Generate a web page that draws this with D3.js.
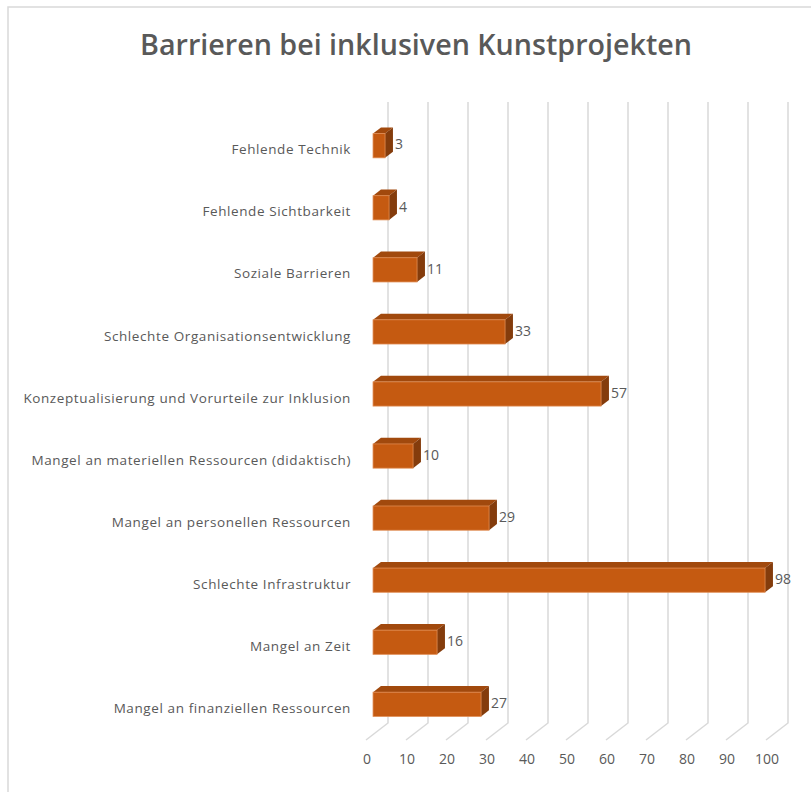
<!DOCTYPE html>
<html>
<head>
<meta charset="utf-8">
<script src="https://cdn.jsdelivr.net/npm/d3@7"></script>
<style>
  body { margin: 0; background: #fff; }
  svg { display: block; }
</style>
</head>
<body>
<div id="chart"></div>
<script>
// Barriers, top to bottom as shown in the chart
const categories = [
    'Fehlende Technik',
    'Fehlende Sichtbarkeit',
    'Soziale Barrieren',
    'Schlechte Organisationsentwicklung',
    'Konzeptualisierung und Vorurteile zur Inklusion ',
    'Mangel an materiellen Ressourcen (didaktisch)',
    'Mangel an personellen Ressourcen',
    'Schlechte Infrastruktur',
    'Mangel an Zeit',
    'Mangel an finanziellen Ressourcen'
];
const values = [3, 4, 11, 33, 57, 10, 29, 98, 16, 27];
const ticks = [0, 10, 20, 30, 40, 50, 60, 70, 80, 90, 100];
const title = 'Barrieren bei inklusiven Kunstprojekten';

const width = 811;
const height = 792;
const grey = '#595959';

// fake 3D: depth runs up and to the right
const depthX = 22, depthY = -17;
const zFront = 0.32, zBack = 0.68;

const svg = d3.select('#chart').append('svg')
    .attr('width', width)
    .attr('height', height);

// chart frame
svg.append('path')
    .attr('d', `M8,${height} V7 H${width}`)
    .attr('fill', 'none')
    .attr('stroke', '#d9d9d9')
    .attr('stroke-width', 1.5);

// title: tall narrow face, squeezed to the width it has in the original
svg.append('text')
    .attr('x', 140)
    .attr('y', 55)
    .attr('textLength', 552)
    .attr('lengthAdjust', 'spacingAndGlyphs')
    .attr('font-family', 'Open Sans, sans-serif')
    .attr('font-weight', 600)
    .attr('font-size', 29)
    .attr('fill', grey)
    .text(title);

const x = d3.scaleLinear().domain([0, 100]).range([366, 766]);
const y = d3.scaleBand()
    .domain(categories)
    .range([115, 735])
    .paddingInner(0.61)
    .paddingOuter(0.3);

const floorY = 740;
const wallTop = 102;

// back wall gridlines + floor diagonals
const grid = svg.append('g').attr('stroke', '#d9d9d9').attr('stroke-width', 1.5).attr('fill', 'none');
grid.selectAll('path')
    .data(ticks)
    .enter()
    .append('path')
    .attr('d', d => `M${x(d)},${floorY} L${x(d) + depthX},${floorY + depthY} V${wallTop}`);

// tick labels
svg.append('g')
    .selectAll('text')
    .data(ticks)
    .enter()
    .append('text')
    .attr('x', d => x(d) + 1)
    .attr('y', 764)
    .attr('text-anchor', 'middle')
    .attr('font-family', 'Open Sans, sans-serif')
    .attr('font-size', 14)
    .attr('fill', grey)
    .text(d => d);

// category labels
svg.append('g')
    .selectAll('text')
    .data(categories)
    .enter()
    .append('text')
    .attr('x', 351)
    .attr('y', d => y(d) + y.bandwidth() / 2 + 5)
    .attr('text-anchor', 'end')
    .attr('dominant-baseline', 'middle')
    .attr('font-family', 'Open Sans, sans-serif')
    .attr('font-size', 13.5)
    .attr('letter-spacing', 0.6)
    .attr('fill', grey)
    .text(d => d);

// bars
const rows = categories.map((c, i) => ({ name: c, value: values[i] }));
const bars = svg.append('g').selectAll('g')
    .data(rows)
    .enter()
    .append('g');

const dz = zBack - zFront;
const fx0 = x(0) + depthX * zFront;
const fx = d => x(d.value) + depthX * zFront;
const ox = depthX * dz, oy = depthY * dz;

// top face
bars.append('path')
    .attr('d', d => {
        const y0 = y(d.name);
        return `M${fx0},${y0} L${fx0 + ox},${y0 + oy} L${fx(d) + ox},${y0 + oy} L${fx(d)},${y0} Z`;
    })
    .attr('fill', '#a1490d');

// right side face
bars.append('path')
    .attr('d', d => {
        const y0 = y(d.name);
        const y1 = y0 + y.bandwidth();
        return `M${fx(d)},${y0} L${fx(d) + ox},${y0 + oy} L${fx(d) + ox},${y1 + oy} L${fx(d)},${y1} Z`;
    })
    .attr('fill', '#843c0c');

// front face
bars.append('rect')
    .attr('x', fx0)
    .attr('y', d => y(d.name))
    .attr('width', d => fx(d) - fx0)
    .attr('height', y.bandwidth())
    .attr('fill', '#c55a11')
    .attr('stroke', '#e08a4f')
    .attr('stroke-width', 0.8);

// value labels
bars.append('text')
    .attr('x', d => fx(d) + ox + 2)
    .attr('y', d => y(d.name) + y.bandwidth() / 2)
    .attr('dominant-baseline', 'middle')
    .attr('font-family', 'Open Sans, sans-serif')
    .attr('font-size', 14)
    .attr('fill', grey)
    .text(d => d.value);
</script>
</body>
</html>
